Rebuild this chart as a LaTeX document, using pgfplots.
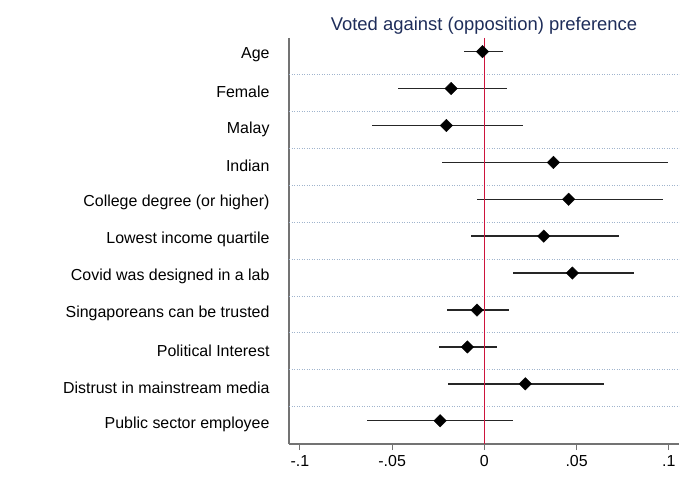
\documentclass[border=0pt]{standalone}
\usepackage{fontspec}
\setmainfont{Liberation Sans}
\usepackage{pgfplots}
\usepackage{pgfplotstable}
\pgfplotsset{compat=1.18}
\definecolor{titleblue}{RGB}{30,45,90}
\definecolor{zeroline}{RGB}{205,20,60}
\definecolor{gridblue}{RGB}{160,180,205}
\definecolor{axisgray}{RGB}{115,115,115}
\pgfplotstableread{
pos est lo hi
1 -0.0010 -0.0110 0.0100
2 -0.0180 -0.0470 0.0120
3 -0.0206 -0.0607 0.0208
4 0.0374 -0.0231 0.0994
5 0.0457 -0.0038 0.0967
6 0.0322 -0.0072 0.0730
7 0.0477 0.0154 0.0810
8 -0.0040 -0.0204 0.0132
9 -0.0092 -0.0247 0.0067
10 0.0222 -0.0195 0.0650
11 -0.0240 -0.0634 0.0157
}\coefs
\begin{document}
\begin{tikzpicture}[x=1bp,y=1bp]
\path[use as bounding box] (0,0) rectangle (684,491);
\begin{axis}[
  at={(289bp,47bp)}, anchor=south west,
  scale only axis, width=390bp, height=406bp,
  xmin=-0.1059, xmax=0.1055,
  ymin=0.63, ymax=11.63, y dir=reverse,
  axis x line*=bottom, axis y line*=left,
  axis line style={axisgray, line width=1.3bp, -},
  xtick={-0.1,-0.05,0,0.05,0.1},
  xticklabels={{-.1},{-.05},{0},{.05},{.1}},
  x tick label style={font=\fontsize{16}{18}\selectfont, yshift=-2bp},
  xtick style={axisgray, line width=1bp},
  tick align=outside, major tick length=6bp,
  ytick={1,...,11},
  yticklabels={Age,Female,Malay,Indian,College degree (or higher),Lowest income quartile,Covid was designed in a lab,Singaporeans can be trusted,Political Interest,Distrust in mainstream media,Public sector employee},
  y tick label style={font=\fontsize{16}{18}\selectfont, anchor=east, xshift=-10bp, yshift=-3.5bp},
  ytick style={draw=none},
  extra y ticks={1.62,2.62,3.62,4.62,5.62,6.62,7.62,8.62,9.62,10.62},
  extra y tick labels={},
  extra y tick style={grid=major, major grid style={gridblue, dash pattern=on 0.9bp off 1.6bp, line width=0.9bp}, tick style={draw=none}},
  title={Voted against (opposition) preference},
  title style={font=\fontsize{18.5}{20}\selectfont, text=titleblue, at={(0.5,1)}, anchor=south, yshift=-6bp},
  clip=false,
]
\addplot[draw=none, mark=none,
  error bars/.cd, x dir=both, x explicit, error mark=none,
  error bar style={black!85, line width=1.4bp}]
  table[x=est, y=pos, x error plus expr=\thisrow{hi}-\thisrow{est}, x error minus expr=\thisrow{est}-\thisrow{lo}] {\coefs};
\addplot[zeroline, line width=1bp] coordinates {(0,0.63) (0,11.63)};
\addplot[only marks, mark=square*, mark size=4.4bp, mark options={rotate=45, fill=black, draw=black}]
  table[x=est, y=pos] {\coefs};
\end{axis}
\end{tikzpicture}
\end{document}
